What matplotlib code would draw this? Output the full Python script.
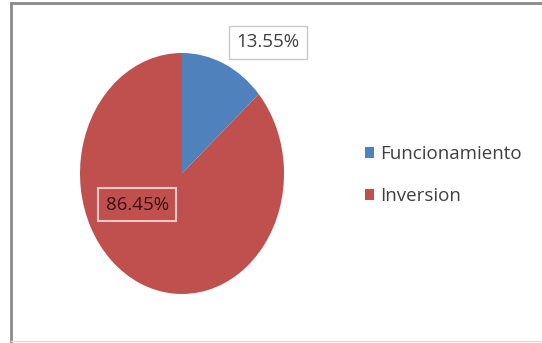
import matplotlib.pyplot as plt

categories = ['Funcionamiento', 'Inversion']
values = [13.55, 86.45]
labels = ['13.55%', '86.45%']
colors = ['#4F81BD', '#C0504D']

W, H = 542, 343
fig = plt.figure(figsize=(W / 100, H / 100), dpi=100)
fig.patch.set_facecolor('white')

# marco gris del gráfico
fig.add_artist(plt.Line2D([11 / W, 11 / W], [0, 1 - 3 / H], color='#8a8a8a', lw=2))
fig.add_artist(plt.Line2D([11 / W, 1], [1 - 3 / H, 1 - 3 / H], color='#8a8a8a', lw=2))
fig.add_artist(plt.Line2D([11 / W, 1], [2 / H, 2 / H], color='#dddddd', lw=1))

# pie un poco estirado en vertical
x0, x1, y0, y1 = 80, 284, 53, 294
ax = fig.add_axes([x0 / W, 1 - y1 / H, (x1 - x0) / W, (y1 - y0) / H])
wedges, _ = ax.pie(values, colors=colors, startangle=90, counterclock=False,
                   wedgeprops=dict(linewidth=0))
ax.set_aspect('auto')
ax.set_xlim(-1, 1)
ax.set_ylim(-1, 1)
ax.axis('off')

font = 'Open Sans'
ax.text(0.84, 1.09, labels[0], ha='center', va='center', fontsize=13.5,
        color='#404040', family=font,
        bbox=dict(boxstyle='square,pad=0.4', fc='white', ec='#c8c8c8', lw=1))
ax.text(-0.44, -0.26, labels[1], ha='center', va='center', fontsize=13.5,
        color='#3a1010', family=font,
        bbox=dict(boxstyle='square,pad=0.4', fc=colors[1], ec='#f0c8c8', lw=1.5))

leg = fig.legend(wedges, categories, loc='upper left',
                 bbox_to_anchor=(348 / W, 1 - 128 / H), frameon=False,
                 prop=dict(family=font, size=13.5), handlelength=0.5,
                 handleheight=0.5, handletextpad=0.3, labelspacing=1.3)
for t in leg.get_texts():
    t.set_color('#404040')

fig.savefig('out.png', dpi=100)
